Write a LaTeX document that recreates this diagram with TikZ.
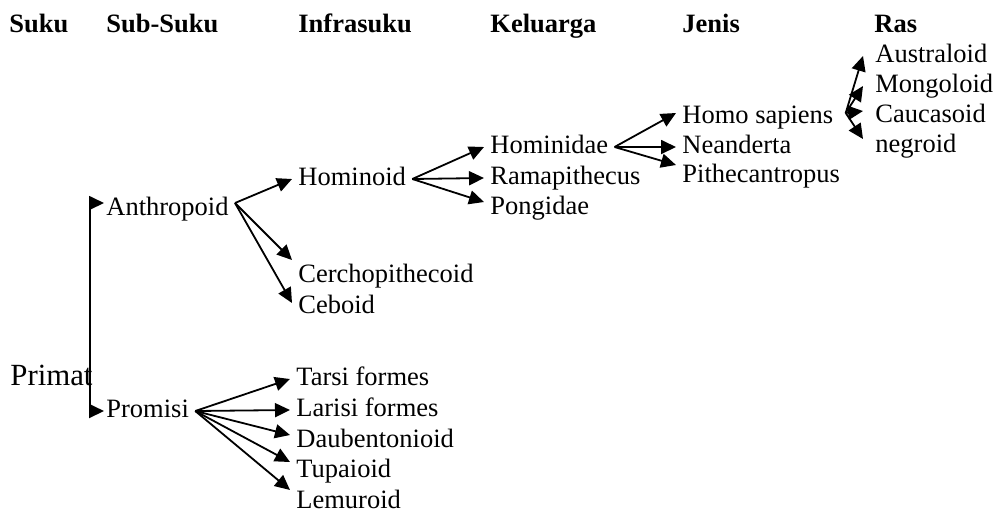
\documentclass[tikz,border=0pt]{standalone}
\usepackage{fontspec}
\setmainfont{Liberation Serif}
\usetikzlibrary{arrows.meta}

\begin{document}
\begin{tikzpicture}[
  x=0.5pt, y=-0.5pt,
  head/.style={anchor=base west, inner sep=0pt, font=\bfseries\fontsize{13.25}{15}\selectfont},
  taxon/.style={anchor=base west, inner xsep=3pt, inner ysep=0pt, text height=9pt, text depth=3pt, font=\fontsize{13.25}{15}\selectfont},
  link/.style={-{Triangle[length=7.5pt,width=7pt]}, line width=0.9pt},
  bothlink/.style={{Triangle[length=7.5pt,width=7pt]}-{Triangle[length=7.5pt,width=7pt]}, line width=0.9pt}
]
\useasboundingbox (0,0) rectangle (995,511);

% column heads
\node[head] (hsuku) at (9,32) {Suku};
\node[head] (hsub) at (106,32) {Sub-Suku};
\node[head] (hinfra) at (298,32) {Infrasuku};
\node[head] (hkel) at (490,32) {Keluarga};
\node[head] (hjenis) at (682,32) {Jenis};
\node[head] (hras) at (874,32) {Ras};

% suku and sub-suku
\node[anchor=base west, inner sep=0pt, font=\fontsize{15.4}{18}\selectfont] (primat) at (10,385) {Primat};
\node[taxon] (anthropoid) at (100,215) {Anthropoid};
\node[taxon] (promisi) at (100,417) {Promisi};

% infrasuku
\node[taxon] (hominoid) at (292,185) {Hominoid};
\node[taxon] (cercho) at (292,282) {Cerchopithecoid};
\node[taxon] (ceboid) at (292,313) {Ceboid};
\node[taxon] (tarsi) at (290,385) {Tarsi formes};
\node[taxon] (larisi) at (290,416) {Larisi formes};
\node[taxon] (daub) at (290,447) {Daubentonioid};
\node[taxon] (tupai) at (290,477) {Tupaioid};
\node[taxon] (lemur) at (290,508) {Lemuroid};

% keluarga
\node[taxon] (hominidae) at (484,153) {Hominidae};
\node[taxon] (rama) at (484,184) {Ramapithecus};
\node[taxon] (pongi) at (484,214) {Pongidae};

% jenis
\node[taxon] (homo) at (676,123) {Homo sapiens};
\node[taxon] (neand) at (676,153) {Neanderta};
\node[taxon] (pithe) at (676,182) {Pithecantropus};

% ras
\node[taxon] (austr) at (869,62) {Australoid};
\node[taxon] (mongo) at (869,92) {Mongoloid};
\node[taxon] (cauca) at (869,122) {Caucasoid};
\node[taxon] (negro) at (869,152) {negroid};

% primat bracket
\coordinate (fork) at (90,300);
\path ([xshift=2pt,yshift=3pt]anthropoid.west) coordinate (antin);
\path ([xshift=2pt]promisi.west) coordinate (promin);
\draw[bothlink] (antin) -| (fork) |- (promin);

\draw[link] ([yshift=3pt]anthropoid.east) -- (hominoid.west);
\draw[link] ([yshift=3pt]anthropoid.east) -- ([yshift=8pt]cercho.west);
\draw[link] ([yshift=3pt]anthropoid.east) -- ([yshift=2pt]ceboid.west);

\draw[link] (promisi.east) -- (tarsi.west);
\draw[link] (promisi.east) -- (larisi.west);
\draw[link] (promisi.east) -- ([yshift=3pt]daub.west);
\draw[link] (promisi.east) -- ([yshift=4.5pt]tupai.west);
\draw[link] (promisi.east) -- ([yshift=6pt]lemur.west);

\draw[link] (hominoid.east) -- (hominidae.west);
\draw[link] (hominoid.east) -- (rama.west);
\draw[link] (hominoid.east) -- ([yshift=3pt]pongi.west);

\draw[link] (hominidae.east) -- ([yshift=2pt]homo.west);
\draw[link] (hominidae.east) -- (neand.west);
\draw[link] (hominidae.east) -- ([yshift=5.5pt]pithe.west);

\draw[link] ([xshift=3pt,yshift=2pt]homo.east) -- ([xshift=-3pt]austr.west);
\draw[link] ([xshift=3pt,yshift=2pt]homo.east) -- ([xshift=-3pt]mongo.west);
\draw[link] ([xshift=3pt,yshift=2pt]homo.east) -- ([xshift=-3pt,yshift=2.5pt]cauca.west);
\draw[link] ([xshift=3pt,yshift=2pt]homo.east) -- ([xshift=-3pt,yshift=3.5pt]negro.west);
\end{tikzpicture}
\end{document}
